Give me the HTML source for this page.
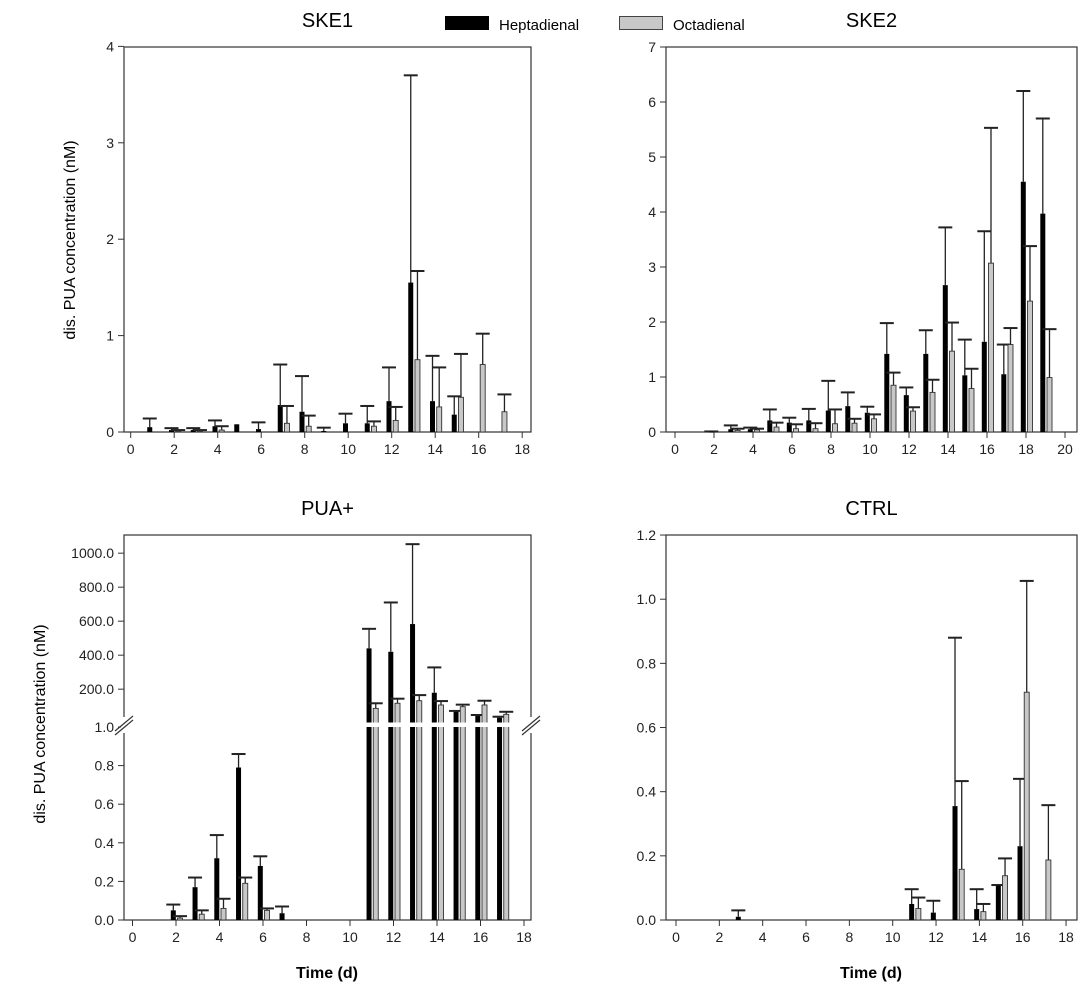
<!DOCTYPE html>
<html><head><meta charset="utf-8"><style>
body{margin:0;background:#fff;width:1085px;height:1000px;overflow:hidden}
svg{font-family:"Liberation Sans",Arial,sans-serif}
</style></head><body>
<svg id="c" width="1085" height="1000">
<g>
<rect x="445" y="16" width="44" height="14" fill="#000"/>
<text x="499" y="30" font-size="15">Heptadienal</text>
<rect x="619.5" y="16.5" width="43" height="13" fill="#c8c8c8" stroke="#444"/>
<text x="673" y="30" font-size="15">Octadienal</text>
</g>
<text x="75" y="240" font-size="16" text-anchor="middle" transform="rotate(-90 75 240)">dis. PUA concentration (nM)</text>
<text x="45" y="724" font-size="16" text-anchor="middle" transform="rotate(-90 45 724)">dis. PUA concentration (nM)</text>
<text x="327" y="978" font-size="16" font-weight="bold" text-anchor="middle">Time (d)</text>
<text x="871" y="978" font-size="16" font-weight="bold" text-anchor="middle">Time (d)</text>
</svg>
<script>
// SKE1
const ske1Days=[1,2,3,4,5,6,7,8,9,10,11,12,13,14,15,16,17];
const ske1Hept=[0.05,0.02,0.02,0.06,0.08,0.03,0.28,0.21,0.01,0.09,0.09,0.32,1.55,0.32,0.18,0,0];
const ske1HeptErr=[0.14,0.04,0.04,0.12,0.08,0.10,0.70,0.58,0.045,0.19,0.27,0.67,3.7,0.79,0.37,0,0];
const ske1Oct=[0,0.01,0.01,0.02,0,0,0.09,0.06,0,0,0.06,0.12,0.75,0.26,0.36,0.70,0.21];
const ske1OctErr=[0,0.02,0.02,0.06,0,0,0.27,0.17,0,0,0.11,0.26,1.67,0.67,0.81,1.02,0.39];
// SKE2
const ske2Days=[2,3,4,5,6,7,8,9,10,11,12,13,14,15,16,17,18,19];
const ske2Hept=[0.005,0.05,0.05,0.21,0.17,0.21,0.39,0.47,0.35,1.42,0.67,1.42,2.67,1.03,1.64,1.05,4.55,3.97];
const ske2HeptErr=[0.01,0.12,0.08,0.41,0.26,0.42,0.93,0.72,0.46,1.98,0.81,1.85,3.72,1.68,3.65,1.59,6.2,5.7];
const ske2Oct=[0,0.03,0.04,0.09,0.06,0.06,0.15,0.16,0.24,0.85,0.38,0.72,1.47,0.79,3.07,1.59,2.38,0.99];
const ske2OctErr=[0,0.06,0.06,0.17,0.14,0.16,0.41,0.24,0.32,1.08,0.45,0.95,1.99,1.15,5.53,1.89,3.38,1.87];
// PUA+
const puaDays=[2,3,4,5,6,7,11,12,13,14,15,16,17];
const puaHept=[0.05,0.17,0.32,0.79,0.28,0.035,440,420,583,179,67,42,32];
const puaHeptErr=[0.08,0.22,0.44,0.86,0.33,0.07,555,710,1053,328,72,48,38];
const puaOct=[0.01,0.03,0.06,0.19,0.05,0,87,117,132,107,97,107,52];
const puaOctErr=[0.02,0.05,0.11,0.22,0.06,0,117,144,165,130,109,132,67];
// CTRL
const ctrlDays=[3,11,12,13,14,15,16,17];
const ctrlHept=[0.01,0.05,0.023,0.355,0.034,0.107,0.23,0];
const ctrlHeptErr=[0.03,0.096,0.06,0.88,0.096,0.109,0.44,0];
const ctrlOct=[0,0.036,0,0.158,0.026,0.138,0.71,0.187];
const ctrlOctErr=[0,0.07,0,0.433,0.05,0.192,1.057,0.358];
// tick labels
const ske1YTicks=["0","1","2","3","4"];
const ske2YTicks=["0","1","2","3","4","5","6","7"];
const puaLowTicks=["0.0","0.2","0.4","0.6","0.8","1.0"];
const puaHighTicks=["200.0","400.0","600.0","800.0","1000.0"];
const ctrlYTicks=["0.0","0.2","0.4","0.6","0.8","1.0","1.2"];

const svg=document.getElementById('c');
const NS='http://www.w3.org/2000/svg';
function mk(tag,attrs,parent){const e=document.createElementNS(NS,tag);for(const k in attrs)e.setAttribute(k,attrs[k]);(parent||svg).appendChild(e);return e;}

function panel(o){
  const g=mk('g',{});
  
  
  const xs=d=>o.x0+d*o.xu;
  const ys=o.ys;
  const box=mk('rect',{x:o.L,y:o.T,width:o.R-o.L,height:o.B-o.T,fill:'none',stroke:'#333','stroke-width':1.2},g);
  
  
  const t=mk('text',{x:(o.L+o.R)/2,y:27,'font-size':20,'text-anchor':'middle'},g);
  t.textContent=o.title;
  if(o.T>100)t.setAttribute('y',515);
  
  
  for(let d=0;d<=o.xmax;d+=2){
    const X=xs(d);
    mk('line',{x1:X,x2:X,y1:o.B,y2:o.B+6,stroke:'#333'},g);
    const lt=mk('text',{x:X,y:o.B+22,'font-size':14,'text-anchor':'middle',fill:'#222'},g);
    lt.textContent=d;
    
    
  }
  o.yt.forEach(([v,lab])=>{
    const Y=ys(v);
    mk('line',{x1:o.L-6,x2:o.L,y1:Y,y2:Y,stroke:'#333'},g);
    const lt=mk('text',{x:o.L-10,y:Y+5,'font-size':14,'text-anchor':'end',fill:'#222'},g);
    lt.textContent=lab;
    
    
  });
  function series(days,vals,errs,off,fill,sname){
    days.forEach((d,i)=>{
      const v=vals[i],e=errs[i];
      if(v<=0&&e<=0)return;
      const cx=xs(d)+off;
      if(e>v){
        const ln=mk('line',{x1:cx,x2:cx,y1:ys(v),y2:ys(e),stroke:'#222','stroke-width':1.3},g);
        
        
        mk('line',{x1:cx-7,x2:cx+7,y1:ys(e),y2:ys(e),stroke:'#222','stroke-width':2},g);
      }
      if(v>0){
        const r=mk('rect',{x:cx-2.5,y:ys(v),width:5,height:Math.max(0.8,o.B-ys(v)),fill:fill,stroke:fill==='#000'?'none':'#333','stroke-width':0.9},g);
        
        
      }
    });
  }
  series(o.days,o.hept,o.heptErr,-2.7,'#000','heptadienal');
  series(o.days,o.oct,o.octErr,4,'#c8c8c8','octadienal');
  return g;
}

panel({name:'ske1',title:'SKE1',L:124,R:531,T:47,B:432,x0:130.7,xu:21.75,xmax:18,
  ys:v=>432-v*96.4,yt:ske1YTicks.map((l,i)=>[i,l]),
  days:ske1Days,hept:ske1Hept,heptErr:ske1HeptErr,oct:ske1Oct,octErr:ske1OctErr});
panel({name:'ske2',title:'SKE2',L:666,R:1077,T:47,B:432,x0:675,xu:19.5,xmax:20,
  ys:v=>432-v*55,yt:ske2YTicks.map((l,i)=>[i,l]),
  days:ske2Days,hept:ske2Hept,heptErr:ske2HeptErr,oct:ske2Oct,octErr:ske2OctErr});
const puaY=v=>v<=1?920-v*193:723-(v-1)*0.17;
const puaG=panel({name:'pua-plus',title:'PUA+',L:124,R:531,T:535,B:920,x0:132.5,xu:21.75,xmax:18,
  ys:puaY,yt:puaLowTicks.map((l,i)=>[i*0.2,l]).concat(puaHighTicks.map((l,i)=>[200*(i+1),l])),
  days:puaDays,hept:puaHept,heptErr:puaHeptErr,oct:puaOct,octErr:puaOctErr});
// axis break
const gap=mk('rect',{x:125,y:722.5,width:405,height:4.5,fill:'#fff'},puaG);


[[124],[531]].forEach(([x])=>{
  mk('rect',{x:x-3,y:717,width:6,height:16,fill:'#fff'},puaG);
  const b1=mk('line',{x1:x-9,x2:x+9,y1:731,y2:716,stroke:'#333','stroke-width':1.2},puaG);
  
  
  mk('line',{x1:x-9,x2:x+9,y1:735,y2:720,stroke:'#333','stroke-width':1.2},puaG);
});
panel({name:'ctrl',title:'CTRL',L:666,R:1077,T:535,B:920,x0:676,xu:21.67,xmax:18,
  ys:v=>920-v*320.8,yt:ctrlYTicks.map((l,i)=>[i*0.2,l]),
  days:ctrlDays,hept:ctrlHept,heptErr:ctrlHeptErr,oct:ctrlOct,octErr:ctrlOctErr});
</script>
</body></html>
